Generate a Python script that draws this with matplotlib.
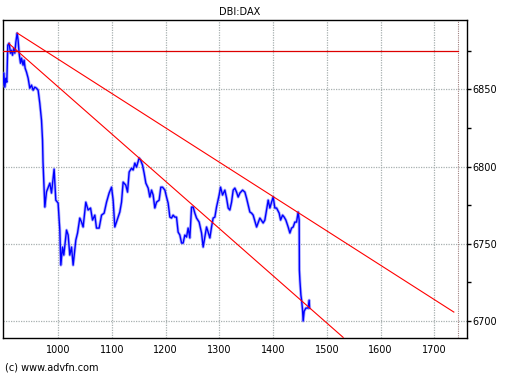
import matplotlib
matplotlib.use("Agg")
import matplotlib.pyplot as plt
from matplotlib.ticker import MultipleLocator

# price trace (x = bar index, y = index level)
price_x = [896.6, 898.5, 900.4, 902.2, 904.1, 905.9, 908.4, 911.0, 912.8, 914.7,
           917.1, 919.0, 920.9, 923.3, 925.1, 927.0, 929.6, 931.5, 934.4, 936.3,
           938.2, 940.8, 943.8, 946.9, 950.1, 953.1, 956.2, 959.4, 962.4, 965.5,
           967.4, 968.7, 970.6, 971.5, 974.9, 978.0, 984.2, 987.3, 992.2, 995.3,
           999.6, 1002.8, 1004.7, 1007.8, 1010.2, 1015.3, 1018.3, 1021.4, 1024.6, 1027.6,
           1032.6, 1035.8, 1040.0, 1043.2, 1046.2, 1051.2, 1055.5, 1060.0, 1063.7, 1068.0,
           1071.1, 1076.0, 1080.5, 1085.3, 1089.8, 1094.6, 1099.1, 1102.1, 1105.2, 1109.5,
           1114.5, 1117.7, 1120.7, 1125.7, 1128.9, 1131.9, 1136.3, 1139.3, 1142.5, 1145.6,
           1150.5, 1153.1, 1156.8, 1159.8, 1163.0, 1167.3, 1170.4, 1173.6, 1176.6, 1179.7,
           1182.9, 1187.7, 1190.9, 1194.1, 1198.4, 1201.5, 1204.5, 1207.7, 1210.8, 1213.8,
           1217.0, 1220.1, 1223.1, 1226.3, 1229.5, 1232.4, 1235.6, 1238.8, 1241.7, 1244.9,
           1248.1, 1251.1, 1254.2, 1257.4, 1262.2, 1266.7, 1269.7, 1272.9, 1276.0, 1279.0,
           1282.2, 1285.3, 1288.3, 1291.5, 1294.6, 1299.5, 1302.1, 1305.8, 1310.1, 1313.3,
           1316.3, 1319.4, 1322.6, 1325.6, 1328.7, 1331.9, 1334.9, 1338.1, 1343.1, 1347.4,
           1350.5, 1353.5, 1356.7, 1359.8, 1362.8, 1369.2, 1375.3, 1381.4, 1384.6, 1390.8,
           1393.9, 1397.1, 1400.1, 1403.2, 1406.4, 1411.2, 1413.9, 1417.6, 1420.6, 1423.7,
           1428.0, 1431.2, 1434.3, 1437.3, 1440.5, 1443.6, 1446.6, 1448.5, 1448.9, 1449.8,
           1451.7, 1453.0, 1454.8, 1455.9, 1457.8, 1461.0, 1465.3, 1467.1, 1467.9]
price_y = [6852.8, 6860.6, 6851.5, 6857.3, 6854.7, 6878.7, 6880.0, 6873.5, 6875.4, 6872.2,
           6876.7, 6873.5, 6880.6, 6886.5, 6882.0, 6873.5, 6867.0, 6870.3, 6865.7, 6869.0,
           6863.8, 6861.2, 6857.3, 6850.8, 6852.8, 6849.5, 6851.5, 6850.8, 6849.5, 6841.1,
           6834.7, 6830.1, 6817.2, 6803.1, 6773.8, 6783.7, 6789.3, 6782.9, 6798.4, 6778.3,
           6776.4, 6758.9, 6736.2, 6747.9, 6742.7, 6758.9, 6755.7, 6742.7, 6747.9, 6736.2,
           6752.4, 6757.0, 6766.7, 6764.1, 6760.9, 6777.0, 6771.9, 6773.2, 6765.4, 6768.6,
           6760.2, 6760.2, 6768.6, 6769.9, 6777.0, 6782.9, 6786.7, 6778.3, 6760.9, 6765.4,
           6770.6, 6777.0, 6790.0, 6788.0, 6783.5, 6796.5, 6799.0, 6797.8, 6802.3, 6799.7,
           6805.6, 6804.3, 6801.0, 6795.8, 6789.3, 6786.1, 6780.3, 6784.8, 6781.6, 6773.2,
           6777.0, 6778.3, 6786.7, 6786.7, 6784.8, 6780.3, 6776.4, 6767.3, 6766.7, 6768.6,
           6767.3, 6767.3, 6757.6, 6755.7, 6750.5, 6750.5, 6755.7, 6754.4, 6760.2, 6753.8,
           6773.8, 6773.8, 6769.9, 6766.7, 6764.1, 6757.0, 6747.9, 6754.4, 6760.9, 6757.6,
           6753.8, 6760.9, 6766.7, 6767.3, 6773.8, 6781.6, 6786.7, 6781.6, 6784.8, 6779.6,
           6773.2, 6771.9, 6777.0, 6784.8, 6786.1, 6783.5, 6780.3, 6782.9, 6784.8, 6783.5,
           6779.6, 6775.1, 6770.6, 6769.9, 6768.6, 6760.9, 6766.7, 6763.5, 6765.4, 6778.3,
           6773.2, 6777.0, 6780.3, 6773.2, 6773.2, 6769.9, 6765.4, 6768.6, 6767.3, 6765.4,
           6760.9, 6757.0, 6760.2, 6760.9, 6764.1, 6764.1, 6770.6, 6765.4, 6733.0, 6726.6,
           6716.8, 6713.5, 6707.0, 6700.0, 6706.4, 6708.4, 6708.4, 6713.5, 6708.4]

# trend lines (start/end points)
upper_x = [923.3, 1736.5]
upper_y = [6886.6, 6705.8]
lower_x = [907.8, 1530.4]
lower_y = [6879.8, 6689.4]
resist_x = [896.6, 1744.0]
resist_y = [6874.8, 6874.8]
marker_x = 1744.0

x_ticks = [1000, 1100, 1200, 1300, 1400, 1500, 1600, 1700]
y_ticks = [6700, 6750, 6800, 6850]

fig = plt.figure(figsize=(5.12, 3.84), dpi=100)
ax = fig.add_axes([3 / 512, 1 - 338 / 384, 464 / 512, 318 / 384])

ax.plot(price_x, price_y, color="#8080ff", lw=2.2, alpha=0.6, zorder=3)
ax.plot(price_x, price_y, color="#0000ff", lw=1.0, zorder=4)
ax.plot(upper_x, upper_y, color="#ff0000", lw=0.8, zorder=5)
ax.plot(lower_x, lower_y, color="#ff0000", lw=0.8, zorder=5)
ax.plot(resist_x, resist_y, color="#dd0000", lw=0.9, zorder=5)
ax.axvline(marker_x, color="#a08080", lw=0.8, ls=(0, (1, 1)), zorder=2)

ax.set_xlim(897, 1761)
ax.set_ylim(6689, 6895)
ax.set_xticks(x_ticks)
ax.set_yticks(y_ticks)
ax.yaxis.set_minor_locator(MultipleLocator(25))
ax.yaxis.tick_right()
ax.tick_params(axis="y", which="both", direction="out", length=3, width=1,
               labelsize=7, pad=1)
ax.tick_params(axis="x", length=0, labelsize=7, pad=5)
ax.grid(True, color="#a8b0b0", ls=(0, (1, 1)), lw=0.9)
for s in ax.spines.values():
    s.set_linewidth(1.0)

fig.text(240 / 512, 1 - 12 / 384, "DBI:DAX", ha="center", va="center", fontsize=7)
fig.text(5 / 512, 1 - 367 / 384, "(c) www.advfn.com", ha="left", va="center",
         fontsize=7)

fig.savefig("out.png", dpi=100)
